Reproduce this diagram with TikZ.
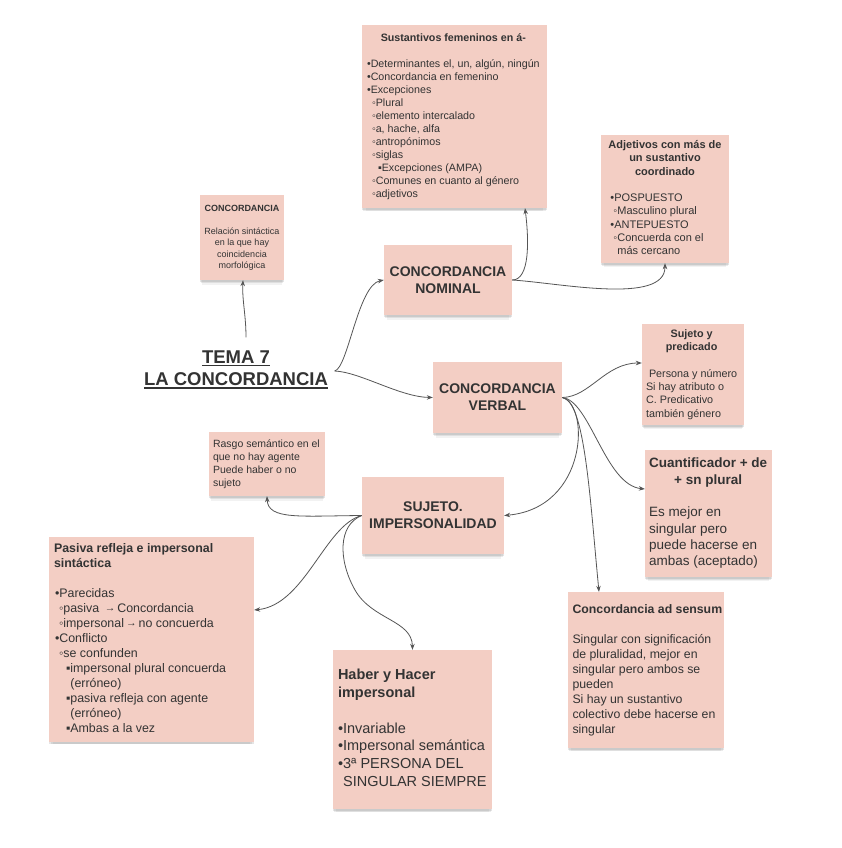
\documentclass[tikz,border=0pt]{standalone}
\usepackage{fontspec}
\setmainfont{Liberation Sans}
\usetikzlibrary{arrows.meta,shadows}
\definecolor{boxpink}{RGB}{243,206,196}
\definecolor{txtgray}{RGB}{51,51,51}
\definecolor{linegray}{RGB}{85,85,85}
\newcommand\fsz[2]{\fontsize{#1}{#2}\selectfont}
\newcommand\myul[1]{\setbox0\hbox{#1}\rlap{\rule[-3pt]{\wd0}{1.6pt}}\box0}
\newcommand\ctr[1]{\multicolumn{1}{@{}c@{}}{\bfseries #1}}
\newcommand\sarr{\,\raisebox{0.6pt}{\fsz{10.5}{10.5}→}\,}
\begin{document}
\begin{tikzpicture}[x=1pt,y=-1pt,
  box/.style={fill=boxpink, draw=none, inner sep=0pt,
    drop shadow={shadow xshift=0pt,shadow yshift=-2pt,opacity=.14,fill=black!70},
    drop shadow={shadow xshift=0pt,shadow yshift=-4pt,shadow scale=.985,opacity=.11,fill=black!70},
    drop shadow={shadow xshift=0pt,shadow yshift=-6.5pt,shadow scale=.96,opacity=.07,fill=black!70}},
  txt/.style={inner sep=0pt, text=txtgray},
  conn/.style={draw=linegray, line width=0.8pt, -{Stealth[length=6pt,width=4.5pt]}}]
\fill[white] (0,0) rectangle (841,848);
\useasboundingbox (0,0) rectangle (841,848);

% boxes
\node[box, minimum width=185pt, minimum height=183pt] (fem) at (454.5,116.5) {};
\node[box, minimum width=128pt, minimum height=128pt] (adj) at (665,199) {};
\node[box, minimum width=84pt, minimum height=85pt] (conc) at (242,237.5) {};
\node[box, font={\fsz{14}{17}\bfseries}, text=txtgray, align=center, minimum width=128pt, minimum height=70pt] (nom) at (448,280) {CONCORDANCIA\\NOMINAL};
\node[box, font={\fsz{14}{17}\bfseries}, text=txtgray, align=center, minimum width=129pt, minimum height=71pt] (verb) at (497.5,397.5) {CONCORDANCIA\\VERBAL};
\node[box, minimum width=102pt, minimum height=101pt] (suj) at (693,374.5) {};
\node[box, minimum width=116pt, minimum height=64pt] (rasgo) at (267,464) {};
\node[box, font={\fsz{14}{17}\bfseries}, text=txtgray, align=center, minimum width=142pt, minimum height=77pt] (imp) at (433,515.5) {SUJETO.\\IMPERSONALIDAD};
\node[box, minimum width=127pt, minimum height=127pt] (cuant) at (708.5,513.5) {};
\node[box, minimum width=205pt, minimum height=205pt] (pas) at (151.5,639.5) {};
\node[box, minimum width=159pt, minimum height=159pt] (hab) at (412.5,729.5) {};
\node[box, minimum width=156pt, minimum height=156pt] (ads) at (646,670) {};

% title
\node[txt, font={\fsz{18.5}{22.5}\bfseries}, align=center] (tema) at (236,369.6) {\myul{TEMA 7}\\\myul{LA CONCORDANCIA}};

% texts
\node[txt, font={\fsz{10.7}{13}}, anchor=west] (femT) at ([xshift=5pt]fem.west) {\begin{tabular}{@{}l@{}}
\ctr{Sustantivos femeninos en á-}\\
\\
•Determinantes el, un, algún, ningún\\
•Concordancia en femenino\\
•Excepciones\\
\hspace{5pt}◦Plural\\
\hspace{5pt}◦elemento intercalado\\
\hspace{5pt}◦a, hache, alfa\\
\hspace{5pt}◦antropónimos\\
\hspace{5pt}◦siglas\\
\hspace{11pt}▪Excepciones (AMPA)\\
\hspace{5pt}◦Comunes en cuanto al género\\
\hspace{5pt}◦adjetivos
\end{tabular}};

\node[txt, font={\fsz{11}{13.3}}] (adjT) at (adj.center) {\begin{tabular}{@{}l@{}}
\ctr{Adjetivos con más de}\\
\ctr{un sustantivo}\\
\ctr{coordinado}\\
\\
\hspace{2pt}•POSPUESTO\\
\hspace{5pt}◦Masculino plural\\
\hspace{2pt}•ANTEPUESTO\\
\hspace{5pt}◦Concuerda con el\\
\hspace{5pt}\phantom{◦}más cercano
\end{tabular}};

\node[txt, font={\fsz{9}{11.5}}] (concT) at (conc.center) {\begin{tabular}{@{}c@{}}
\textbf{CONCORDANCIA}\\
\\
Relación sintáctica\\
en la que hay\\
coincidencia\\
morfológica
\end{tabular}};

\node[txt, font={\fsz{10.8}{13.3}}, anchor=west] (sujT) at ([xshift=4pt]suj.west) {\begin{tabular}{@{}l@{}}
\ctr{Sujeto y}\\
\ctr{predicado}\\
\\
\ Persona y número\\
Si hay atributo o\\
C. Predicativo\\
también género
\end{tabular}};

\node[txt, font={\fsz{10.5}{13}}, anchor=west] (rasgoT) at ([xshift=4pt]rasgo.west) {\begin{tabular}{@{}l@{}}
Rasgo semántico en el\\
que no hay agente\\
Puede haber o no\\
sujeto
\end{tabular}};

\node[txt, font={\fsz{13.5}{16.3}}, anchor=west] (cuantT) at ([xshift=4pt]cuant.west) {\begin{tabular}{@{}l@{}}
\ctr{Cuantificador + de}\\
\ctr{+ sn plural}\\
\\
Es mejor en\\
singular pero\\
puede hacerse en\\
ambas (aceptado)
\end{tabular}};

\node[txt, font={\fsz{12.4}{15}}, anchor=west] (pasT) at ([xshift=5pt]pas.west) {\begin{tabular}{@{}l@{}}
\textbf{Pasiva refleja e impersonal}\\
\textbf{sintáctica}\\
\\
\hspace{1pt}•Parecidas\\
\hspace{5pt}◦pasiva \sarr Concordancia\\
\hspace{5pt}◦impersonal\sarr no concuerda\\
\hspace{1pt}•Conflicto\\
\hspace{5pt}◦se confunden\\
\hspace{12pt}▪impersonal plural concuerda\\
\hspace{12pt}\phantom{▪}(erróneo)\\
\hspace{12pt}▪pasiva refleja con agente\\
\hspace{12pt}\phantom{▪}(erróneo)\\
\hspace{12pt}▪Ambas a la vez
\end{tabular}};

\node[txt, font={\fsz{14.5}{17.7}}, anchor=west] (habT) at ([xshift=5pt]hab.west) {\begin{tabular}{@{}l@{}}
\textbf{Haber y Hacer}\\
\textbf{impersonal}\\
\\
•Invariable\\
•Impersonal semántica\\
•3ª PERSONA DEL\\
\phantom{•}SINGULAR SIEMPRE
\end{tabular}};

\node[txt, font={\fsz{12.3}{15}}, anchor=west] (adsT) at ([xshift=4.5pt]ads.west) {\begin{tabular}{@{}l@{}}
\textbf{Concordancia ad sensum}\\
\\
Singular con significación\\
de pluralidad, mejor en\\
singular pero ambos se\\
pueden\\
Si hay un sustantivo\\
colectivo debe hacerse en\\
singular
\end{tabular}};

% connectors
\draw[conn] ([shift={(10pt,13pt)}]tema.north) .. controls (246,315) and (242,300) .. ([xshift=1pt]conc.south);
\draw[conn] ([shift={(6.5pt,-1.4pt)}]tema.east) .. controls (348,368) and (358,285) .. (nom.west);
\draw[conn] ([shift={(6.5pt,-1.4pt)}]tema.east) .. controls (360,372) and (400,397) .. (verb.west);
\draw[conn] (nom.east) .. controls (530,280) and (529,240) .. ([xshift=70.5pt]fem.south);
\draw[conn] (nom.east) .. controls (560,283) and (665,305) .. (adj.south);
\draw[conn] (verb.east) .. controls (590,397) and (605,363) .. ([yshift=11.5pt]suj.west);
\draw[conn] (verb.east) .. controls (590,405) and (588,508) .. (imp.east);
\draw[conn] (verb.east) .. controls (590,400) and (605,485) .. ([yshift=24.5pt]cuant.west);
\draw[conn] (verb.east) .. controls (585,400) and (590,500) .. ([xshift=-47pt]ads.north);
\draw[conn] (imp.west) .. controls (300,516) and (268,520) .. (rasgo.south);
\draw[conn] (imp.west) .. controls (325,525) and (305,605) .. ([yshift=29.5pt]pas.east);
\draw[conn] (imp.west) .. controls (338,525) and (338,560) .. (355,590) .. controls (372,620) and (412,620) .. (hab.north);
\end{tikzpicture}
\end{document}
